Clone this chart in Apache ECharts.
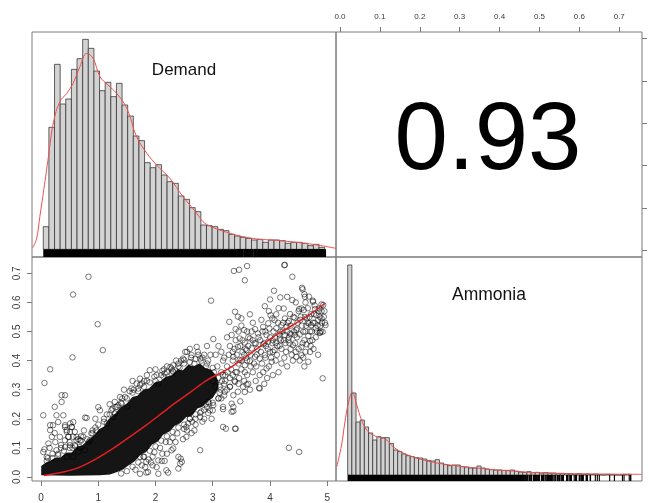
<!DOCTYPE html>
<html><head><meta charset="utf-8">
<script src="https://cdn.jsdelivr.net/npm/echarts@6/dist/echarts.min.js"></script>
<style>html,body{margin:0;padding:0;background:#fff}#c{width:649px;height:503px}</style>
</head><body><div id="c"></div>
<script>
// ---------------- data ----------------
const variableNames = ['Demand', 'Ammonia'];
const correlation = 0.93;
const demandTicks = [0, 1, 2, 3, 4, 5];
const ammoniaTicks = [0, 0.1, 0.2, 0.3, 0.4, 0.5, 0.6, 0.7];

const demandBinStart = 0.04, demandBinWidth = 0.0983;
const demandCounts = [68,366,555,436,451,540,572,630,603,535,476,501,458,498,433,400,340,326,260,245,254,223,203,198,160,150,125,113,73,71,68,60,56,45,40,36,33,28,30,21,28,28,26,18,21,21,18,11,15,6];
const demandDensity = [[-0.15,4],[-0.08,30],[-0.02,98],[0.05,180],[0.13,278],[0.22,383],[0.33,443],[0.45,468],[0.56,498],[0.68,548],[0.8,588],[0.91,573],[1.03,518],[1.17,493],[1.32,468],[1.5,423],[1.67,338],[1.85,288],[2.02,253],[2.25,213],[2.48,158],[2.6,133],[2.72,108],[2.83,83],[2.95,70],[3.12,58],[3.36,45],[3.59,36],[3.82,30],[4.05,28],[4.29,24],[4.52,20],[4.75,15],[4.93,10],[5.15,3]];

const ammoniaBinStart = 0.0193, ammoniaBinWidth = 0.01045;
const ammoniaCounts = [630,246,159,165,144,126,105,115,112,112,95,75,70,63,58,55,52,51,48,43,42,46,36,31,28,30,30,25,24,21,21,27,21,18,16,15,15,14,14,15,11,9,8,10,7,8,6,7,6,6,5,5,4,4,3,4,3,3,2,3,1,0,2,1,0,0,2,2];
const ammoniaDensity = [[-0.008,25],[0.004,90],[0.012,156],[0.021,216],[0.031,249],[0.042,210],[0.054,165],[0.067,135],[0.084,119],[0.1,113],[0.117,105],[0.134,84],[0.159,66],[0.184,54],[0.209,45],[0.243,36],[0.276,30],[0.309,25],[0.351,20],[0.393,15],[0.434,12],[0.476,8],[0.56,4],[0.643,3],[0.757,2]];

// dense, fully overplotted core of the scatter (outline of the black mass)
const denseCoreOutline = [[0.03,0.035],[0.1,0.045],[0.16,0.05],[0.25,0.06],[0.35,0.062],[0.45,0.078],[0.55,0.08],[0.65,0.1],[0.74,0.105],[0.85,0.125],[0.95,0.14],[1.03,0.16],[1.12,0.17],[1.2,0.195],[1.32,0.215],[1.4,0.235],[1.5,0.245],[1.61,0.27],[1.7,0.275],[1.8,0.295],[1.9,0.3],[2.0,0.32],[2.1,0.325],[2.19,0.34],[2.3,0.345],[2.4,0.365],[2.48,0.36],[2.58,0.38],[2.68,0.375],[2.77,0.385],[2.86,0.37],[2.95,0.365],[3.02,0.35],[3.08,0.325],
  [3.06,0.3],[2.98,0.275],[2.9,0.265],[2.8,0.245],[2.72,0.24],[2.62,0.215],[2.52,0.21],[2.42,0.19],[2.32,0.18],[2.22,0.16],[2.12,0.15],[2.02,0.125],[1.92,0.115],[1.82,0.09],[1.72,0.08],[1.62,0.058],[1.52,0.045],[1.42,0.03],[1.32,0.022],[1.2,0.014],[1.03,0.011],[0.5,0.009],[0.03,0.011]];

// individually visible points [Demand, Ammonia]
const scatterPoints = [
  [0.83,0.688],[0.56,0.627],[0.99,0.525],[1.08,0.436],[0.55,0.411],[0.16,0.370],[0.06,0.323],[0.04,0.212],[0.36,0.281],[0.42,0.281],[0.36,0.258],[0.24,0.241],[0.39,0.212],[0.27,0.212],[0.30,0.189],[0.16,0.178],[0.21,0.178],[0.16,0.161],[0.24,0.151],[0.19,0.138],[0.13,0.115],[0.51,0.184],[0.54,0.172],[0.42,0.178],[0.59,0.155],[0.48,0.138],[0.33,0.138],[0.62,0.126],[0.77,0.204],[1.03,0.229],[0.83,0.120],[0.68,0.103],[0.42,0.103],[0.04,0.086],[0.10,0.069],[0.27,0.092],[0.06,0.095],[0.2,0.08],[0.35,0.11],[0.5,0.12],[0.45,0.155],[0.7,0.14],[0.9,0.16],[0.95,0.2],[0.75,0.16],[0.15,0.1],[0.25,0.12],[0.55,0.1],[0.3,0.075],[0.12,0.065],
  [0.564,0.189],[0.535,0.172],[0.419,0.172],[0.448,0.161],[0.506,0.155],[0.564,0.138],[0.622,0.138],[0.477,0.138],[0.506,0.109],[0.593,0.109],[0.419,0.126],[0.68,0.126],[0.739,0.138],[0.768,0.092],[0.651,0.086],[0.448,0.069],[0.564,0.069],[0.797,0.203],[0.97,0.16],[0.855,0.126],
  [1.15,0.184],[1.23,0.229],[1.29,0.218],[1.26,0.206],[1.38,0.275],[1.41,0.252],[1.35,0.247],[1.32,0.241],[1.50,0.241],[1.29,0.258],[1.47,0.275],[1.58,0.304],[1.70,0.304],[1.73,0.316],[1.76,0.321],[1.67,0.321],[1.73,0.338],[1.90,0.367],[2.02,0.350],[2.05,0.321],[2.14,0.344],[2.16,0.356],[2.28,0.356],[2.31,0.384],[2.28,0.373],[2.26,0.378],[2.31,0.361],[2.48,0.407],[2.50,0.402],[2.55,0.430],[2.52,0.43],[2.63,0.419],[2.72,0.447],[2.78,0.407],[3.01,0.474],[2.97,0.606],[1.0,0.24],[1.1,0.2],[1.2,0.25],[1.45,0.3],[1.6,0.33],[1.85,0.35],[2.0,0.37],[2.2,0.38],[2.4,0.39],[2.6,0.44],[2.85,0.42],[2.9,0.45],
  [1.73,0.069],[1.79,0.069],[1.84,0.052],[1.82,0.034],[2.02,0.034],[2.05,0.011],[2.19,0.023],[2.31,0.098],[2.40,0.069],[2.46,0.052],[2.54,0.172],[2.54,0.138],[1.73,0.011],[1.87,0.017],[2.78,0.092],[2.44,0.063],[2.43,0.046],[2.40,0.029],[2.28,0.092],[2.16,0.055],[1.84,0.015],[2.05,0.057],[2.11,0.055],[2.22,0.015],[2.63,0.151],[2.57,0.184],[2.78,0.206],[2.98,0.2],[3.0,0.229],[2.94,0.252],[3.18,0.172],[3.36,0.241],[3.39,0.166],[3.33,0.224],[3.18,0.241],[3.23,0.166],[3.40,0.166],[2.2,0.08],[2.35,0.12],[2.7,0.18],[1.95,0.04],[2.6,0.2],[2.85,0.23],
  [3.37,0.708],[3.46,0.712],[3.60,0.725],[3.56,0.676],[4.26,0.729],[4.39,0.688],[4.07,0.640],[4.18,0.617],[4.30,0.619],[4.39,0.608],[4.57,0.645],[4.60,0.628],[4.61,0.619],[4.75,0.606],[3.39,0.568],[3.91,0.587],[3.44,0.551],[3.50,0.545],[3.65,0.559],[3.29,0.533],[4.24,0.579],[4.11,0.559],[4.01,0.556],[4.04,0.545],[4.43,0.547],[4.33,0.536],[4.26,0.545],[4.51,0.577],[4.55,0.579],[4.59,0.574],[4.54,0.551],[4.64,0.545],[4.68,0.528],[4.72,0.522],[4.80,0.511],[4.87,0.496],[4.92,0.499],[4.90,0.545],[4.81,0.556],[4.97,0.522],[4.93,0.591],[4.86,0.579],[4.79,0.577],[4.92,0.339],[3.40,0.508],[3.55,0.505],[3.74,0.508],[3.79,0.493],[3.94,0.488],[3.88,0.516],[3.97,0.528],[4.08,0.539],
  [3.33,0.488],[3.47,0.476],[3.56,0.462],[3.65,0.476],[3.75,0.459],[3.68,0.442],[3.59,0.436],[3.44,0.447],[3.88,0.456],[3.97,0.465],[4.05,0.470],[4.17,0.476],[4.26,0.488],[4.35,0.493],[4.43,0.488],[4.20,0.522],[4.11,0.511],[4.29,0.516],[4.46,0.505],[4.58,0.499],[4.67,0.485],[4.70,0.467],[4.64,0.456],[4.55,0.447],[4.40,0.453],[4.32,0.470],[4.17,0.451],[4.08,0.436],[4.00,0.430],[3.91,0.419],[3.82,0.407],[3.74,0.413],[3.65,0.398],[3.56,0.384],[3.47,0.402],[3.36,0.413],[4.70,0.430],[4.67,0.396],[4.55,0.419],[4.03,0.396],[3.94,0.373],[3.82,0.350],[4.46,0.413],
  [4.05,0.350],[3.82,0.304],[3.44,0.293],[3.53,0.310],[3.36,0.281],[3.39,0.327],[3.30,0.310],[3.21,0.293],[3.15,0.270],[3.33,0.252],[3.36,0.226],[3.18,0.233],[3.01,0.247],[2.95,0.229],[2.92,0.258],[4.33,0.100],[4.51,0.086],[3.81,0.306],[3.59,0.318],[3.56,0.292],[4.25,0.728],[4.56,0.65],[4.75,0.602],[4.90,0.593],[4.96,0.53],[4.87,0.496],
  [3.42,0.36],[3.5,0.4],[3.52,0.43],[3.58,0.41],[3.62,0.45],[3.66,0.42],[3.7,0.47],[3.72,0.39],[3.78,0.44],[3.8,0.48],[3.84,0.43],[3.86,0.39],[3.9,0.46],[3.92,0.5],[3.96,0.44],[4.0,0.48],[4.02,0.41],[4.06,0.5],[4.1,0.46],[4.12,0.42],[4.14,0.53],[4.16,0.49],[4.2,0.44],[4.22,0.5],[4.24,0.47],[4.28,0.43],[4.3,0.5],[4.34,0.46],[4.36,0.52],[4.38,0.42],[4.42,0.5],[4.44,0.46],[4.48,0.53],[4.5,0.44],[4.52,0.49],[4.56,0.52],[4.6,0.47],[4.62,0.5],[4.66,0.53],[4.7,0.5],[4.72,0.56],[4.74,0.47],[4.78,0.53],[4.82,0.5],[4.84,0.54],[4.88,0.52],[4.9,0.57],[4.94,0.55],[4.76,0.44],[4.84,0.42],[4.58,0.41],[4.4,0.4],[4.2,0.39],[4.15,0.36],[3.95,0.34],[3.7,0.36],[3.6,0.35],[3.55,0.33],[3.45,0.32],[3.48,0.26],[3.65,0.3],[3.9,0.32],[4.3,0.38],[4.6,0.38],[4.5,0.57],[4.45,0.6],[4.35,0.56],[4.15,0.58],[3.98,0.57],[3.85,0.54],[3.7,0.53],[3.6,0.5],[3.5,0.52],[3.3,0.45],[3.25,0.48],[3.2,0.41],[3.1,0.45],[3.35,0.35],[4.0,0.61],[4.68,0.62],[4.62,0.6],
  [3.35,0.43],[3.4,0.47],[3.45,0.5],[3.52,0.47],[3.57,0.44],[3.62,0.48],[3.68,0.5],[3.73,0.46],[3.77,0.42],[3.83,0.47],[3.87,0.5],[3.93,0.45],[3.99,0.51],[4.04,0.46],[4.09,0.48],[4.13,0.45],[4.18,0.5],[4.23,0.53],[4.27,0.46],[4.31,0.53],[4.37,0.49],[4.41,0.55],[4.47,0.48],[4.53,0.54],[4.57,0.46],[4.63,0.52],[4.69,0.55],[4.73,0.5],[4.77,0.56],[4.83,0.52],[4.87,0.55],[4.91,0.53],[4.95,0.57],[4.89,0.5],[4.8,0.48],[4.71,0.45],[4.62,0.43],[4.52,0.4],[4.45,0.43],[4.36,0.44],[4.25,0.41],[4.1,0.4],[3.98,0.38],[3.88,0.36],[3.76,0.38],[3.66,0.38],[3.56,0.36],[3.46,0.34],[3.62,0.32],[3.75,0.33],[3.92,0.41],[4.05,0.43],[4.19,0.47],[4.33,0.48],[4.47,0.51],[4.61,0.55],[4.75,0.53],[4.85,0.57],[4.78,0.59],[4.66,0.58],
  [0.1,0.055],[0.2,0.065],[0.3,0.08],[0.4,0.09],[0.5,0.1],[0.6,0.105],[0.7,0.125],[0.8,0.13],[0.9,0.15],[1.0,0.18],[1.1,0.19],[1.2,0.215],[1.3,0.24],[1.4,0.255],[1.5,0.27],[1.6,0.29],[1.7,0.295],[1.8,0.31],[1.9,0.325],[2.0,0.33],[2.1,0.35],[2.2,0.36],[2.3,0.365],[2.4,0.38],[2.5,0.39],[2.6,0.395],[2.7,0.405],[2.8,0.4],[2.9,0.39],[3.0,0.375],
  [0.35,0.1],[0.65,0.13],[0.95,0.17],[1.25,0.235],[1.55,0.295],[1.85,0.33],[2.15,0.37],[2.45,0.4],[2.75,0.42],
  [1.4,0.012],[1.5,0.02],[1.6,0.035],[1.7,0.05],[1.8,0.07],[1.9,0.09],[2.0,0.105],[2.1,0.125],[2.2,0.14],[2.3,0.155],[2.4,0.17],[2.5,0.18],[2.6,0.2],[2.7,0.215],[2.8,0.225],[2.9,0.24],[3.0,0.255],[3.1,0.27],
  [1.65,0.025],[1.95,0.07],[2.25,0.12],[2.55,0.16],[2.85,0.2],
  [2.62,0.41],[2.68,0.39],[2.74,0.43],[2.82,0.41],[2.88,0.38],[2.92,0.4],[2.96,0.42],[2.42,0.375],[2.36,0.4],[2.12,0.365],[1.98,0.345],[1.8,0.33],[1.62,0.3],[1.42,0.27],[1.15,0.215],[0.88,0.15],[2.7,0.2],[2.78,0.22],[2.64,0.19],[2.5,0.165],[2.38,0.15],[2.3,0.135],[2.18,0.12],[2.08,0.1],[1.98,0.085],[1.88,0.06],[1.76,0.04],[2.88,0.25],[2.92,0.22],[2.82,0.19],[2.68,0.16],[2.48,0.13],[2.12,0.08],[1.92,0.05],
  [3.0,0.33],[3.02,0.36],[3.05,0.31],[3.08,0.38],[3.1,0.34],[3.12,0.29],[3.15,0.36],[3.18,0.4],[3.2,0.32],[3.22,0.35],[3.25,0.38],[3.28,0.42],[3.3,0.34],[3.32,0.37],[3.35,0.4],[3.38,0.44],[3.05,0.42],[3.15,0.43],[3.25,0.3],[3.4,0.36],[3.45,0.39],[3.42,0.42],[3.5,0.37],[3.55,0.42],[3.6,0.4],[3.48,0.45],[3.38,0.33],[3.1,0.27],[3.2,0.28],[3.3,0.31],
  [3.12,0.31],[3.16,0.33],[3.14,0.3],[3.22,0.33],[3.26,0.36],[3.18,0.35]
];
const lowessLine = [[0.05,0.005],[0.39,0.017],[0.68,0.034],[0.97,0.063],[1.26,0.098],[1.55,0.138],[1.85,0.18],[2.13,0.222],[2.37,0.258],[2.6,0.29],[2.9,0.333],[3.3,0.375],[3.7,0.43],[4.11,0.488],[4.64,0.551],[4.96,0.597]];
const demandRugSolid = [0.04, 3.41];
const ammoniaRugSolid = [0.019, 0.459];

// ---------------- derived ----------------
const demandBins = demandCounts.map((c, i) => [demandBinStart + i * demandBinWidth, demandBinStart + (i + 1) * demandBinWidth, c]);
const ammoniaBins = ammoniaCounts.map((c, i) => [ammoniaBinStart + i * ammoniaBinWidth, ammoniaBinStart + (i + 1) * ammoniaBinWidth, c]);
const demandRug = scatterPoints.map(p => p[0]).filter(v => v > demandRugSolid[1]).map(v => [v]);
const ammoniaRug = scatterPoints.map(p => p[1]).filter(v => v > ammoniaRugSolid[1]).map(v => [v]);

const FONT = 'Liberation Sans, Arial, sans-serif';
const BORDER = '#7a7a7a';
const LAB = '#3a3a3a';
const DEM_RANGE = [-0.157, 5.153];
const AMM_X_RANGE = [-0.010, 0.757];
const AMM_Y_RANGE = [-0.0138, 0.756];
const DEM_HIST_Y = [-23, 652];
const AMM_HIST_Y = [-18, 654];

function histItem(params, api) {
  const p0 = api.coord([api.value(0), api.value(2)]);
  const p1 = api.coord([api.value(1), 0]);
  return {type: 'rect', shape: {x: p0[0], y: p0[1], width: p1[0] - p0[0], height: p1[1] - p0[1]},
    style: {fill: '#d3d3d3', stroke: '#383838', lineWidth: 0.8}};
}
function rugTick(yMin) {
  return function (params, api) {
    const a = api.coord([api.value(0), 0]);
    const b = api.coord([api.value(0), yMin]);
    return {type: 'line', shape: {x1: a[0], y1: a[1], x2: b[0], y2: b[1]}, style: {stroke: '#000', lineWidth: 1.1}};
  };
}
function rugSolid(range, yMin) {
  return function (params, api) {
    const a = api.coord([range[0], 0]);
    const b = api.coord([range[1], yMin]);
    return {type: 'rect', shape: {x: a[0], y: a[1], width: b[0] - a[0], height: b[1] - a[1]}, style: {fill: '#000'}};
  };
}
const tickStyle = {show: true, length: 5, lineStyle: {color: BORDER, width: 1}};
const noLine = {show: false, onZero: false};
const gridBase = {show: true, borderColor: BORDER, borderWidth: 1, containLabel: false, outerBoundsMode: 'none'};

const chart = echarts.init(document.getElementById('c'), null, {renderer: 'canvas'});
chart.setOption({
  animation: false,
  backgroundColor: '#fff',
  grid: [
    Object.assign({left: 32, top: 32, width: 304, height: 225}, gridBase),
    Object.assign({left: 336, top: 32, width: 306, height: 225}, gridBase),
    Object.assign({left: 32, top: 257, width: 304, height: 224}, gridBase),
    Object.assign({left: 336, top: 257, width: 306, height: 224}, gridBase)
  ],
  xAxis: [
    {gridIndex: 0, type: 'value', min: DEM_RANGE[0], max: DEM_RANGE[1], show: false},
    {gridIndex: 1, type: 'value', position: 'top', min: AMM_X_RANGE[0], max: AMM_X_RANGE[1],
      axisLine: noLine, splitLine: {show: false},
      axisTick: Object.assign({customValues: ammoniaTicks}, tickStyle),
      axisLabel: {customValues: ammoniaTicks, formatter: v => v.toFixed(1), fontSize: 8, color: LAB, fontFamily: FONT, margin: 11}},
    {gridIndex: 2, type: 'value', position: 'bottom', min: DEM_RANGE[0], max: DEM_RANGE[1],
      axisLine: noLine, splitLine: {show: false},
      axisTick: Object.assign({customValues: demandTicks}, tickStyle),
      axisLabel: {customValues: demandTicks, formatter: v => String(v), fontSize: 10, color: LAB, fontFamily: FONT, margin: 12}},
    {gridIndex: 3, type: 'value', min: AMM_X_RANGE[0], max: AMM_X_RANGE[1], show: false}
  ],
  yAxis: [
    {gridIndex: 0, type: 'value', min: DEM_HIST_Y[0], max: DEM_HIST_Y[1], show: false},
    {gridIndex: 1, type: 'value', position: 'right', min: DEM_RANGE[0], max: DEM_RANGE[1],
      axisLine: noLine, splitLine: {show: false},
      axisTick: Object.assign({customValues: demandTicks}, tickStyle),
      axisLabel: {show: false}},
    {gridIndex: 2, type: 'value', position: 'left', min: AMM_Y_RANGE[0], max: AMM_Y_RANGE[1],
      axisLine: noLine, splitLine: {show: false},
      axisTick: Object.assign({customValues: ammoniaTicks}, tickStyle),
      axisLabel: {customValues: ammoniaTicks, formatter: v => v.toFixed(1), fontSize: 10, color: LAB, fontFamily: FONT, margin: 10, rotate: 90}},
    {gridIndex: 3, type: 'value', min: AMM_HIST_Y[0], max: AMM_HIST_Y[1], show: false}
  ],
  graphic: [
    {type: 'text', x: 184, y: 70, style: {text: variableNames[0], fontSize: 17, fontFamily: FONT, fill: '#111', align: 'center', verticalAlign: 'middle'}},
    {type: 'text', x: 489, y: 295, style: {text: variableNames[1], fontSize: 17.5, fontFamily: FONT, fill: '#111', align: 'center', verticalAlign: 'middle'}},
    {type: 'text', x: 488, y: 143, style: {text: correlation.toFixed(2), fontSize: 96, fontFamily: FONT, fill: '#000', align: 'center', verticalAlign: 'middle'}}
  ],
  series: [
    {type: 'custom', xAxisIndex: 0, yAxisIndex: 0, data: demandBins, encode: {x: [0, 1], y: 2}, renderItem: histItem, clip: true, z: 2},
    {type: 'line', xAxisIndex: 0, yAxisIndex: 0, data: demandDensity, smooth: 0.4, showSymbol: false, lineStyle: {color: '#f05050', width: 1}, z: 3},
    {type: 'custom', xAxisIndex: 0, yAxisIndex: 0, data: [[demandRugSolid[0]]], renderItem: rugSolid(demandRugSolid, DEM_HIST_Y[0]), z: 4},
    {type: 'custom', xAxisIndex: 0, yAxisIndex: 0, data: demandRug, renderItem: rugTick(DEM_HIST_Y[0]), z: 4},
    {type: 'custom', xAxisIndex: 3, yAxisIndex: 3, data: ammoniaBins, encode: {x: [0, 1], y: 2}, renderItem: histItem, clip: true, z: 2},
    {type: 'line', xAxisIndex: 3, yAxisIndex: 3, data: ammoniaDensity, smooth: 0.4, showSymbol: false, lineStyle: {color: '#f05050', width: 1}, z: 3},
    {type: 'custom', xAxisIndex: 3, yAxisIndex: 3, data: [[ammoniaRugSolid[0]]], renderItem: rugSolid(ammoniaRugSolid, AMM_HIST_Y[0]), z: 4},
    {type: 'custom', xAxisIndex: 3, yAxisIndex: 3, data: ammoniaRug, renderItem: rugTick(AMM_HIST_Y[0]), z: 4},
    {type: 'custom', xAxisIndex: 2, yAxisIndex: 2, data: [denseCoreOutline[0]], z: 2,
      renderItem: (params, api) => ({type: 'polygon', shape: {points: denseCoreOutline.map(p => api.coord(p))}, style: {fill: '#151515', stroke: '#151515', lineWidth: 3}})},
    {type: 'scatter', xAxisIndex: 2, yAxisIndex: 2, data: scatterPoints, symbol: 'circle', symbolSize: 5.5, z: 3,
      itemStyle: {color: 'rgba(0,0,0,0)', borderColor: 'rgba(0,0,0,0.72)', borderWidth: 0.9}},
    {type: 'line', xAxisIndex: 2, yAxisIndex: 2, data: lowessLine, smooth: 0.3, showSymbol: false, lineStyle: {color: '#e02020', width: 1.5}, z: 5}
  ]
});
</script>
</body></html>
